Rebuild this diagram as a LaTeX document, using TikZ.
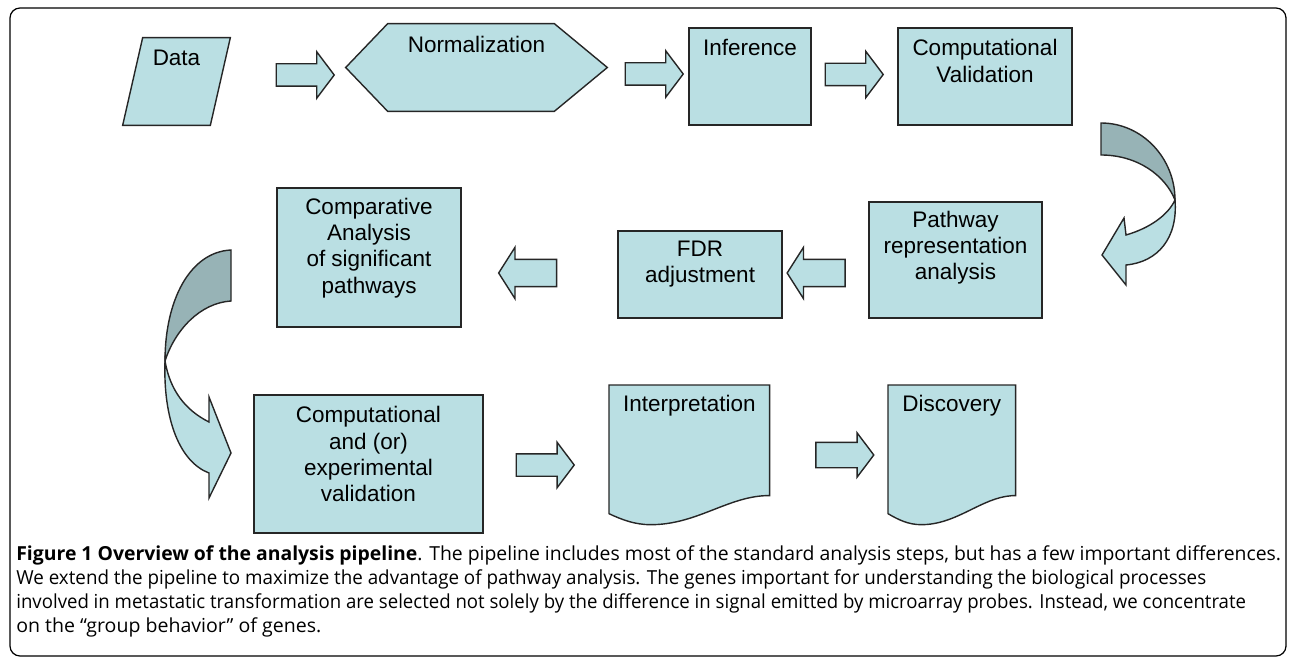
\documentclass[tikz,border=0pt]{standalone}
\usepackage{fontspec}
\setmainfont{Liberation Sans}
\newfontfamily\capfont{Open Sans}
\usepackage{graphicx}
\usepackage{tikz}
\usetikzlibrary{calc, positioning, shapes.arrows}

\definecolor{boxblue}{RGB}{186,223,227}
\definecolor{backblue}{RGB}{151,179,182}

\tikzset{
  shapeline/.style={draw=black!85, line width=0.8pt, fill=boxblue, line join=miter},
  stepbox/.style={shapeline, rectangle, inner sep=0pt},
  blank/.style={inner sep=0pt, draw=none},
  lbl/.style={font=\fontsize{12.8}{15}\selectfont, align=center, inner sep=0pt},
  barrow/.style={single arrow, shapeline, inner xsep=0pt, inner ysep=0.21cm, minimum height=1.16cm,
    single arrow head extend=0.24cm, single arrow tip angle=106},
  larrow/.style={barrow, shape border rotate=180, inner ysep=0.26cm, single arrow tip angle=115},
  captext/.style={anchor=base west, inner sep=0pt, font=\capfont\fontsize{11}{14}\selectfont}
}

% caption line squeezed to the width it has in the figure
\newcommand{\capline}[2]{\resizebox{#1}{\height}{#2}}

\newcommand{\docpath}[1]{%
  \draw[shapeline] (#1.north west) -- (#1.north east) -- (#1.south east)
    -- ($(#1.south east)!0.03!(#1.south west)$)
    .. controls ($(#1.south east)!0.27!(#1.south west)+(0,2)$) and ($(#1.south east)!0.46!(#1.south west)+(0,29)$)
    .. ($(#1.south east)!0.74!(#1.south west)+(0,29)$)
    .. controls ($(#1.south east)!0.84!(#1.south west)+(0,29)$) and ($(#1.south east)!0.92!(#1.south west)+(0,24)$)
    .. ($(#1.south west)+(0,18)$) -- cycle;}

\begin{document}
\begin{tikzpicture}[x=0.02cm, y=-0.02cm]
  \useasboundingbox (0,0) rectangle (1290,662);
  % outer frame
  \draw[line width=0.7pt, rounded corners=0.2cm] (10,8) rectangle (1286,656);

  % first row
  \node[blank, minimum width=2.14cm, minimum height=1.74cm] (data) at (176.5,81.5) {};
  \draw[shapeline] (data.south west) -- ($(data.north west)+(20,0)$) -- (data.north east)
    -- ($(data.south east)+(-20,0)$) -- cycle;
  \node[lbl] (data-t) at ($(data.north)+(0,20)$) {Data};

  \node[blank, minimum width=5.22cm, minimum height=1.74cm] (norm) at (476.5,67.5) {};
  \draw[shapeline] (norm.west) -- ($(norm.north west)+(42,0)$) -- ($(norm.north east)+(-53,0)$)
    -- (norm.east) -- ($(norm.south east)+(-53,0)$) -- ($(norm.south west)+(42,0)$) -- cycle;
  \node[lbl] (norm-t) at ($(norm.north)+(0,21)$) {Normalization};

  \node[stepbox, minimum width=2.44cm, minimum height=1.94cm] (inf) at (750,76.5) {};
  \node[lbl] (inf-t) at ($(inf.north)+(0,20)$) {Inference};

  \node[stepbox, minimum width=3.48cm, minimum height=1.94cm] (cval) at (985,76.5) {};
  \node[lbl] (cval-t) at ($(cval.north)+(0,33.5)$) {Computational\\Validation};

  \node[barrow] (a1) at (301,75) {};
  \node[barrow] (a2) at (650,74) {};
  \node[barrow] (a3) at (850,74.5) {};

  % second row
  \node[stepbox, minimum width=3.46cm, minimum height=2.32cm] (path) at (955.5,260) {};
  \node[lbl] (path-t) at ($(path.north)+(0,46.5)$) {Pathway\\representation\\analysis};

  \node[stepbox, minimum width=3.28cm, minimum height=1.74cm] (fdr) at (700,274.5) {};
  \node[lbl] (fdr-t) at ($(fdr.north)+(0,33.5)$) {FDR\\adjustment};

  \node[stepbox, minimum width=3.68cm, minimum height=2.78cm] (comp) at (369,257.5) {};
  \node[lbl] (comp-t) at ($(comp.north)+(0,60.5)$) {Comparative\\Analysis\\of significant\\pathways};

  \node[larrow] (a4) at (820.5,273) {};
  \node[larrow] (a5) at (532,273) {};

  % curved arrow, right side
  \draw[shapeline, fill=backblue] (1101,123) .. controls (1142,123) and (1175,158) .. (1175,200)
    .. controls (1165,175) and (1137,155) .. (1101,155) -- cycle;
  \draw[shapeline] (1175,200) .. controls (1178,238) and (1158,262) .. (1126,265)
    -- (1126,285) -- (1102,255) -- (1124,218) -- (1126,235)
    .. controls (1150,228) and (1168,215) .. (1175,200) -- cycle;

  % curved arrow, left side
  \draw[shapeline, fill=backblue] (231,250) .. controls (190,252) and (165,300) .. (165,361)
    .. controls (175,330) and (200,303) .. (231,301) -- cycle;
  \draw[shapeline] (165,361) .. controls (163,420) and (180,462) .. (209,473)
    -- (209,498) -- (231,453) -- (209,397) -- (209,422)
    .. controls (185,410) and (170,390) .. (165,361) -- cycle;

  % third row
  \node[stepbox, minimum width=4.58cm, minimum height=2.76cm] (expv) at (368.5,464) {};
  \node[lbl] (expv-t) at ($(expv.north)+(0,60)$) {Computational\\and (or)\\experimental\\validation};

  \node[blank, minimum width=3.2cm, minimum height=2.2cm, anchor=north west] (interp) at (609,385) {};
  \docpath{interp}
  \node[lbl] (interp-t) at ($(interp.north)+(0,21)$) {Interpretation};

  \node[blank, minimum width=2.54cm, minimum height=2.2cm, anchor=north west] (disc) at (888,385) {};
  \docpath{disc}
  \node[lbl] (disc-t) at ($(disc.north)+(0,21)$) {Discovery};

  \node[barrow, single arrow head extend=0.23cm] (a6) at (541,465) {};
  \node[barrow, inner ysep=0.24cm, single arrow head extend=0.19cm] (a7) at (840,455) {};

  % caption
  \node[captext] (cap1) at (16,560) {\capline{25.3cm}{\textbf{Figure 1 Overview of the analysis pipeline}. The pipeline includes most of the standard analysis steps, but has a few important differences.}};
  \node[captext] (cap2) at (16,584) {\capline{23.8cm}{We extend the pipeline to maximize the advantage of pathway analysis. The genes important for understanding the biological processes}};
  \node[captext] (cap3) at (16,608) {\capline{24.6cm}{involved in metastatic transformation are selected not solely by the difference in signal emitted by microarray probes. Instead, we concentrate}};
  \node[captext] (cap4) at (16,632) {\capline{6.1cm}{on the “group behavior” of genes.}};
\end{tikzpicture}
\end{document}
